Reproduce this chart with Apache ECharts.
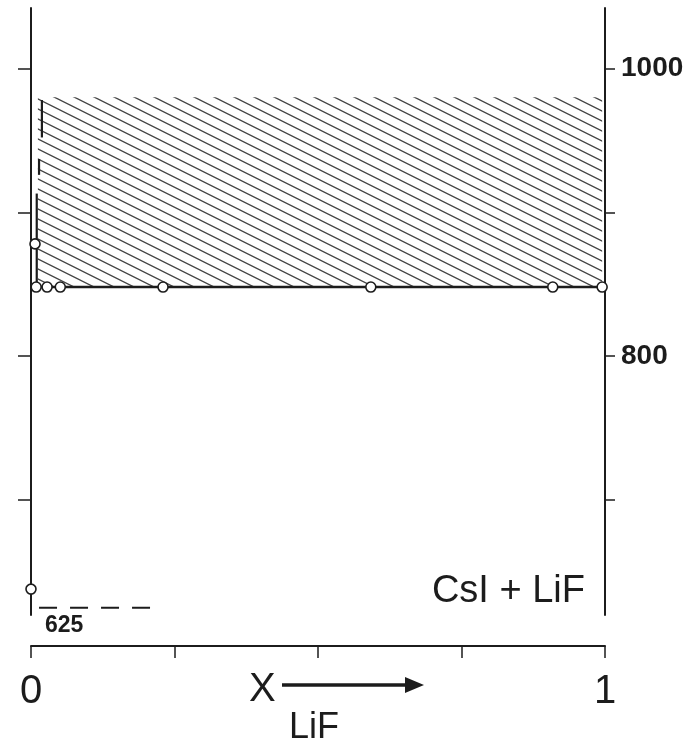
<!DOCTYPE html>
<html><head><meta charset="utf-8">
<script src="https://cdn.jsdelivr.net/npm/echarts@6/dist/echarts.min.js"></script>
<style>html,body{margin:0;padding:0;background:#fff}#c{width:699px;height:755px}</style>
</head><body><div id="c"></div>
<script>
// ---- data ----
const xTickValues = [0, 0.25, 0.5, 0.75, 1];
const xTickLabels = [0, 1];
const yTickValues = [700, 800, 900, 1000];
const yTickLabels = [800, 1000];
const eutecticT = 848;
const eutecticLineX = [0, 1];
const eutecticPointsX = [0.009, 0.028, 0.051, 0.230, 0.592, 0.909, 0.995];
const otherPointsX = [0, 0.007];
const otherPointsY = [638, 878];
const liquidusSegX = [0.019, 0.014, 0.010];
const liquidusSegTop = [978, 937, 913];
const liquidusSegBottom = [952, 926, 848];
const hatchX = [0.012, 0.995];
const hatchY = [848, 980];
const refLineX = [0.014, 0.211];
const refLineT = 625;
const refLabel = '625';
const systemLabel = 'CsI + LiF';
const axisTitleMain = 'X';
const axisTitleSub = 'LiF';

const FONT = '"Liberation Sans", Arial, sans-serif';
const INK = '#1c1c1c';

function hatchPattern() {
  const w = 20, h = 10;
  const c = document.createElement('canvas');
  c.width = w; c.height = h;
  const g = c.getContext('2d');
  g.strokeStyle = '#444';
  g.lineWidth = 1.3;
  for (const dx of [-w, 0, w]) {
    g.beginPath();
    g.moveTo(dx - w, -h);
    g.lineTo(dx + 2 * w, 2 * h);
    g.stroke();
  }
  return c;
}

const chart = echarts.init(document.getElementById('c'), null, {renderer: 'canvas'});

const segSeries = liquidusSegX.map((x, i) => ({
  type: 'line', xAxisIndex: 0, yAxisIndex: 0, symbol: 'none', silent: true, z: 4,
  lineStyle: {color: INK, width: 2.2},
  data: [[x, liquidusSegTop[i]], [x, liquidusSegBottom[i]]]
}));

const option = {
  backgroundColor: '#fff',
  animation: false,
  grid: {left: 31, right: 94, top: 8, bottom: 140, containLabel: false},
  xAxis: {
    type: 'value', min: 0, max: 1, interval: 0.25, offset: 31,
    axisLine: {show: true, lineStyle: {color: INK, width: 2}},
    axisTick: {show: true, length: 12, lineStyle: {color: INK, width: 1.5}},
    splitLine: {show: false},
    axisLabel: {
      margin: 26, fontSize: 40, color: INK, fontFamily: FONT,
      formatter: v => (xTickLabels.indexOf(v) >= 0 ? String(v) : '')
    }
  },
  yAxis: [{
    type: 'value', min: 620, max: 1042, position: 'left',
    axisLine: {show: true, lineStyle: {color: INK, width: 2}},
    axisTick: {show: true, length: 13, customValues: yTickValues, lineStyle: {color: INK, width: 1.5}},
    axisLabel: {show: false},
    splitLine: {show: false}
  }, {
    type: 'value', min: 620, max: 1042, position: 'right',
    axisLine: {show: true, lineStyle: {color: INK, width: 2}},
    axisTick: {show: true, length: 10, customValues: yTickValues, lineStyle: {color: INK, width: 1.5}},
    axisLabel: {show: true, customValues: yTickLabels, formatter: v => String(v), margin: 16, fontSize: 28, fontWeight: 'bold', color: INK, fontFamily: FONT},
    splitLine: {show: false}
  }],
  series: [
    {
      type: 'line', symbol: 'none', silent: true, z: 3,
      lineStyle: {color: INK, width: 2.6},
      data: eutecticLineX.map(x => [x, eutecticT]),
      markArea: {
        silent: true,
        itemStyle: {color: {image: hatchPattern(), repeat: 'repeat'}, borderWidth: 0},
        data: [[{xAxis: hatchX[0], yAxis: hatchY[0]}, {xAxis: hatchX[1], yAxis: hatchY[1]}]]
      }
    },
    ...segSeries,
    {
      type: 'line', symbol: 'circle', symbolSize: 0.1, showSymbol: true, silent: true, z: 4,
      itemStyle: {color: INK},
      lineStyle: {color: INK, width: 2, type: [18, 13]},
      label: {
        show: true, position: 'bottom', align: 'left', distance: 6, offset: [6, 0],
        formatter: p => (p.dataIndex === 0 ? refLabel : ''),
        fontSize: 23, fontWeight: 'bold', color: INK, fontFamily: FONT
      },
      data: refLineX.map(x => [x, refLineT])
    },
    {
      type: 'scatter', silent: true, z: 6, symbol: 'circle', symbolSize: 10,
      itemStyle: {color: '#fff', borderColor: INK, borderWidth: 1.6, opacity: 1},
      data: eutecticPointsX.map(x => [x, eutecticT]).concat(otherPointsX.map((x, i) => [x, otherPointsY[i]]))
    }
  ],
  graphic: [
    {type: 'text', z: 10, x: 585, y: 592,
     style: {text: systemLabel, font: '38px ' + FONT, fill: INK, align: 'right', verticalAlign: 'middle'}},
    {type: 'text', z: 10, x: 249, y: 690,
     style: {text: axisTitleMain, font: '40px ' + FONT, fill: INK, align: 'left', verticalAlign: 'middle'}},
    {type: 'line', z: 10, shape: {x1: 282, y1: 685, x2: 410, y2: 685}, style: {stroke: INK, lineWidth: 3.5}},
    {type: 'polygon', z: 10, shape: {points: [[405, 677], [424, 685], [405, 693]]}, style: {fill: INK}},
    {type: 'text', z: 10, x: 289, y: 728,
     style: {text: axisTitleSub, font: '36px ' + FONT, fill: INK, align: 'left', verticalAlign: 'middle'}}
  ]
};
chart.setOption(option);
</script>
</body></html>
